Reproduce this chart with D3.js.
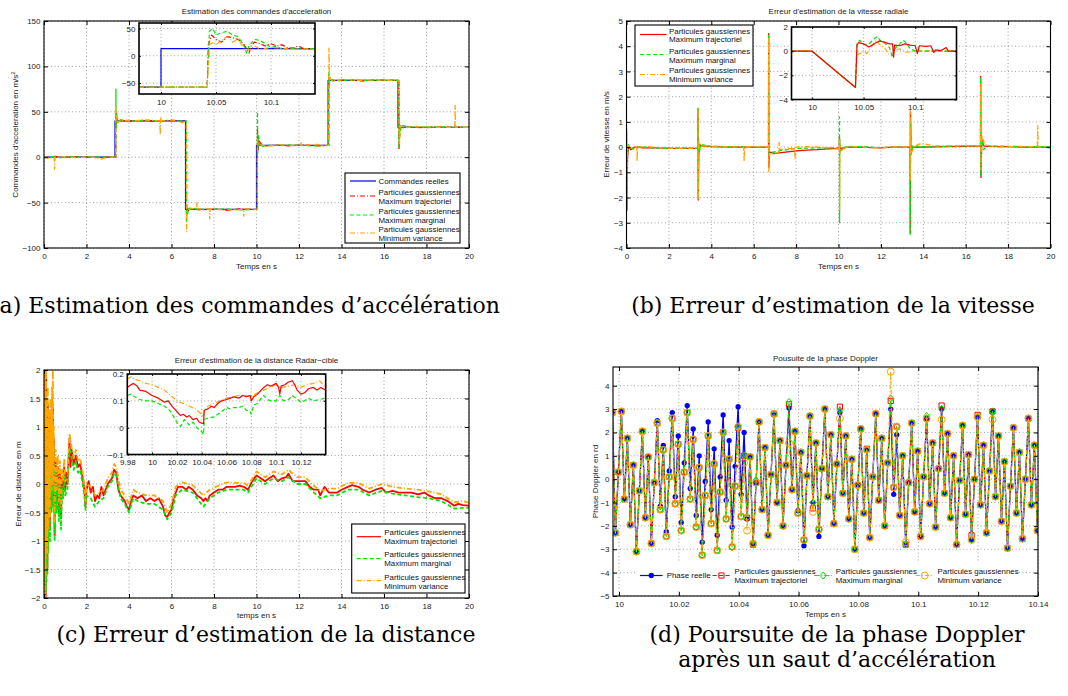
<!DOCTYPE html>
<html>
<head>
<meta charset="utf-8">
<script src="https://cdn.jsdelivr.net/npm/d3@7"></script>
<style>
body { margin: 0; background: #fff; }
svg { font-family: "Liberation Sans", Arial, Helvetica, sans-serif; }
.cap { font-family: "DejaVu Serif", serif; font-size: 22px; }
</style>
</head>
<body>
<script>
// ---------- (a) commandes d'acceleration ----------
var accelTempsReel = [0, 3.34, 6.66, 10.0, 13.37, 16.66, 20];
var accelReel = [0, 40, -57.5, 13, 84.5, 33, 33];
var accelMT = [[0,0.5],[0.3,-0.5],[0.5,0.8],[0.9,-0.3],[1.4,0.4],[2,0],[2.6,-0.4],[3.1,0.3],[3.38,0],[3.385,47],[3.4,36],[3.42,44],[3.46,39],[3.5,41],[4,39.5],[4.6,40.5],[5.2,39.5],[5.8,40.5],[6.4,39.5],[6.7,40],[6.705,-62],[6.72,-55],[6.76,-60],[6.85,-57],[7.4,-58],[8,-57],[8.6,-58.5],[9.2,-57],[9.8,-57.5],[10.04,-57.5],[10.045,30],[10.08,8],[10.12,18],[10.3,12],[10.8,13.5],[11.5,12.5],[12.2,13.5],[12.9,12.5],[13.4,13],[13.405,88],[13.43,82],[13.48,86],[13.6,84.5],[14.3,85],[15,84],[15.7,85],[16.4,84.5],[16.7,84.5],[16.705,8],[16.72,40],[16.75,28],[16.8,34],[17.2,33],[18,32.5],[18.8,33.5],[19.5,33],[20,33]];
var accelMM = [[0,0],[0.4,0.6],[0.8,-0.6],[1.5,0.3],[2.3,-0.2],[3,0.4],[3.38,0],[3.385,75],[3.395,30],[3.41,50],[3.44,38],[3.5,41],[4.2,40],[5,40.5],[5.8,39.5],[6.7,40],[6.705,-72],[6.72,-52],[6.75,-63],[6.82,-56],[7.5,-57.5],[8.5,-57],[9.5,-58],[10.04,-57.5],[10.045,50],[10.06,5],[10.09,25],[10.15,12],[10.6,13],[11.6,13.5],[12.6,12.5],[13.4,13],[13.405,95],[13.42,78],[13.46,88],[13.55,84],[14.5,85],[15.5,84.5],[16.7,84.5],[16.705,10],[16.72,45],[16.74,22],[16.8,35],[17.5,33],[18.5,33.5],[20,33]];
var accelMV = [[0,0.5],[0.2,-1],[0.48,0],[0.5,-13],[0.52,0],[1,0.5],[1.6,-0.5],[2.2,0.6],[2.7,-2],[3,0.3],[3.38,0],[3.385,57],[3.4,42],[3.44,46],[3.5,38],[3.6,41],[4.2,40],[4.8,41],[5.45,40],[5.47,25],[5.5,45],[5.53,40],[6.1,41],[6.5,38],[6.7,40],[6.71,-82],[6.73,-62],[6.78,-58],[6.9,-57],[7.18,-57],[7.2,-50],[7.22,-57],[7.78,-57],[7.8,-68],[7.82,-57],[8.5,-58],[9.38,-58],[9.4,-65],[9.42,-57],[10.04,-57.5],[10.045,20],[10.1,14],[10.5,12],[11,13.5],[12.08,13],[12.1,16],[12.12,13],[12.8,14],[13.4,13],[13.41,120],[13.43,90],[13.47,86],[13.6,84],[14.2,86],[14.6,84.5],[15.4,85],[16.7,84.5],[16.71,30],[16.73,15],[16.77,35],[16.85,32],[17.5,34],[18.3,33],[19.33,33],[19.35,57],[19.37,33],[20,33]];
// zoom autour de t = 10 s
var accelZoomReel = [[9.98,-57.5],[10.0,-57.5],[10.0,13],[10.14,13]];
var accelZoomMT = [[9.98,-57.5],[10.042,-57.5],[10.043,20],[10.046,38],[10.05,30],[10.055,25],[10.06,35],[10.065,33],[10.07,30],[10.075,22],[10.08,5],[10.082,18],[10.085,25],[10.09,22],[10.095,18],[10.1,22],[10.105,18],[10.11,20],[10.115,15],[10.12,14],[10.125,18],[10.13,12],[10.14,13]];
var accelZoomMM = [[9.98,-57.5],[10.042,-57.5],[10.044,45],[10.047,50],[10.05,38],[10.055,42],[10.06,45],[10.065,38],[10.07,35],[10.075,20],[10.078,5],[10.08,18],[10.085,30],[10.09,28],[10.095,22],[10.1,15],[10.105,18],[10.11,12],[10.12,13],[10.13,12],[10.14,13]];
var accelZoomMV = [[9.98,-57.5],[10.042,-57.5],[10.044,20],[10.048,25],[10.05,20],[10.055,28],[10.06,35],[10.065,25],[10.07,30],[10.075,15],[10.08,10],[10.085,18],[10.09,12],[10.1,15],[10.11,14],[10.12,12],[10.14,13]];

// ---------- (b) erreur de vitesse ----------
var vitMT = [[0,0.7],[0.02,-2.5],[0.05,-0.4],[0.1,0.05],[0.2,-0.1],[0.4,0],[0.8,-0.03],[1.5,-0.03],[2.2,-0.05],[3,-0.05],[3.37,-0.05],[3.375,1.5],[3.385,-2.1],[3.41,-0.3],[3.45,0.1],[3.5,0.05],[4,0.02],[5,0],[6,0],[6.7,0],[6.705,4.5],[6.715,-0.8],[6.75,-0.2],[7,-0.25],[7.5,-0.2],[8,-0.15],[8.5,-0.12],[9,-0.1],[9.5,-0.07],[10,-0.05],[10.04,-0.08],[10.045,0.4],[10.06,-0.2],[10.1,-0.05],[10.5,0],[11,0],[12,-0.03],[12.5,0],[13,0],[13.38,0],[13.385,-3.4],[13.395,1.4],[13.43,-0.2],[13.5,0],[14,0],[15,0.02],[16,0.03],[16.7,0.05],[16.705,2.8],[16.72,-1.2],[16.76,0.3],[16.85,0.05],[17,0.03],[18,0.02],[19,0],[20,0]];
var vitMM = [[0,0.6],[0.015,-2.4],[0.04,-0.5],[0.08,0.1],[0.2,-0.05],[0.6,0.02],[1.2,-0.03],[2,-0.05],[2.8,-0.04],[3.37,-0.05],[3.375,1.6],[3.385,-2.0],[3.4,0.3],[3.43,-0.2],[3.5,0.1],[4,0.03],[5,0.01],[6,0],[6.7,0],[6.705,4.5],[6.715,-0.3],[6.75,-0.25],[6.9,-0.2],[7.2,-0.15],[7.6,-0.1],[8,-0.05],[9,-0.03],[10,-0.03],[10.04,-0.05],[10.045,1.2],[10.05,-3.0],[10.06,0.3],[10.1,-0.15],[10.3,0],[11,0.02],[12,-0.02],[13,0],[13.38,0],[13.385,-3.5],[13.395,1.0],[13.42,-0.3],[13.5,0.05],[14,0.02],[15,0.03],[16,0.05],[16.7,0.05],[16.705,2.75],[16.72,-1.1],[16.75,0.4],[16.85,-0.1],[17,0.05],[18,0.03],[19,0.02],[20,0.02]];
var vitMV = [[0,0.75],[0.015,-2.0],[0.04,-0.3],[0.1,0.05],[0.3,-0.1],[0.48,0],[0.5,-0.55],[0.52,0],[1,0.02],[1.6,-0.03],[2.4,-0.05],[3.37,-0.04],[3.375,1.5],[3.385,-2.1],[3.4,-0.2],[3.45,0.15],[3.6,0.05],[4.5,0.02],[5.53,0],[5.55,-0.55],[5.57,0],[6,0.02],[6.7,0],[6.705,4.3],[6.715,-1.0],[6.74,-0.25],[6.9,-0.3],[7.18,-0.2],[7.2,0.2],[7.22,-0.1],[7.6,-0.05],[7.93,-0.05],[7.95,-0.5],[7.97,0],[8.5,0.02],[9.5,-0.02],[10.04,-0.05],[10.045,0.3],[10.05,-2.5],[10.07,0.15],[10.1,-0.1],[10.5,0.03],[11.5,-0.03],[12.5,0],[13.38,0],[13.385,1.45],[13.395,-1.3],[13.41,0.8],[13.45,-0.2],[13.6,0.05],[13.9,0.15],[14.5,0.05],[15.5,0.05],[16.7,0.05],[16.705,2.5],[16.72,-0.9],[16.76,0.45],[16.9,0.1],[17.5,0],[18.5,0.03],[19.38,0],[19.4,0.85],[19.42,0],[20,-0.02]];
var vitZoomMT = [[9.98,0],[10,0],[10.042,-3],[10.0435,0.5],[10.045,0.7],[10.05,0.6],[10.055,0.35],[10.06,0.6],[10.065,0.85],[10.07,0.75],[10.075,0.6],[10.078,0.6],[10.079,-0.5],[10.08,0.5],[10.085,0.45],[10.09,0.6],[10.095,0.5],[10.1,0.45],[10.102,-0.2],[10.104,0.45],[10.11,0.4],[10.115,0.45],[10.118,-0.1],[10.12,0.1],[10.125,0.05],[10.13,0.3],[10.132,0],[10.14,0]];
var vitZoomMM = [[9.98,0],[10,0],[10.042,-3],[10.0435,0.6],[10.046,0.9],[10.05,0.55],[10.055,0.6],[10.06,1.0],[10.063,1.2],[10.067,0.8],[10.07,0.7],[10.075,0.3],[10.078,-0.5],[10.08,0.2],[10.085,0.6],[10.088,0.9],[10.09,0.8],[10.095,0.2],[10.1,0],[10.11,0],[10.12,0],[10.14,0]];
var vitZoomMV = [[9.98,0],[10,0],[10.042,-3],[10.0435,-0.3],[10.047,-0.2],[10.05,0.05],[10.053,-0.2],[10.057,0.3],[10.062,0.9],[10.065,0.6],[10.07,0.3],[10.075,-0.3],[10.078,-0.4],[10.08,0.1],[10.085,0.2],[10.09,-0.1],[10.1,0],[10.11,0.05],[10.12,0],[10.14,0]];

// ---------- (c) erreur de distance ----------
var distMT = [[0,0],[0.02,1.9],[0.04,-1.8],[0.06,1.5],[0.08,-2.0],[0.1,1.95],[0.12,-1.5],[0.14,1.2],[0.16,-1.5],[0.18,1.4],[0.2,-1.0],[0.22,1.0],[0.24,-0.5],[0.26,0.9],[0.28,-0.8],[0.3,1.2],[0.32,0.0],[0.34,1.1],[0.36,-0.3],[0.38,1.5],[0.4,-0.2],[0.42,1.4],[0.44,0.2],[0.46,0.8],[0.5,-0.9],[0.55,0.4],[0.6,-0.3],[0.65,0.3],[0.7,-0.5],[0.75,0.2],[0.8,-0.6],[0.85,0.1],[0.9,-0.1],[0.95,0.3],[1.0,-0.1],[1.05,0.2],[1.1,0.0],[1.2,0.8],[1.25,0.3],[1.3,0.6],[1.4,0.35],[1.5,0.5],[1.6,0.3],[1.7,0.35],[1.8,0.15],[1.9,-0.1],[1.95,-0.4],[2.0,-0.1],[2.1,0.05],[2.2,-0.15],[2.3,-0.05],[2.4,-0.3],[2.5,-0.2],[2.6,-0.25],[2.7,-0.05],[2.8,-0.2],[2.9,-0.1],[3.0,0.0],[3.1,0.05],[3.2,0.1],[3.3,0.25],[3.4,0.2],[3.5,-0.1],[3.6,-0.2],[3.7,-0.25],[3.8,-0.3],[3.9,-0.4],[4.0,-0.45],[4.1,-0.3],[4.2,-0.2],[4.4,-0.25],[4.6,-0.2],[4.8,-0.3],[5.0,-0.25],[5.2,-0.3],[5.4,-0.25],[5.6,-0.4],[5.7,-0.55],[5.8,-0.58],[5.9,-0.5],[6.0,-0.45],[6.1,-0.25],[6.2,-0.15],[6.3,-0.05],[6.5,-0.05],[6.7,-0.1],[6.8,-0.05],[7.0,-0.1],[7.2,-0.2],[7.4,-0.25],[7.5,-0.3],[7.6,-0.25],[7.7,-0.3],[7.8,-0.2],[8.0,-0.15],[8.2,-0.1],[8.4,-0.1],[8.6,-0.05],[8.8,-0.05],[9.0,-0.05],[9.2,-0.03],[9.4,-0.05],[9.6,-0.1],[9.8,0.05],[10.0,0.15],[10.2,0.1],[10.4,0.05],[10.6,0.1],[10.8,0.15],[11.0,0.05],[11.2,0.1],[11.4,0.12],[11.5,0.18],[11.7,0.05],[11.9,0.05],[12.1,0.05],[12.3,0.05],[12.5,-0.05],[12.7,-0.1],[12.9,-0.1],[13.0,-0.2],[13.2,-0.05],[13.4,-0.15],[13.6,-0.15],[13.8,-0.15],[14.0,-0.1],[14.3,-0.05],[14.5,-0.02],[14.8,-0.05],[15.0,-0.1],[15.3,-0.15],[15.6,-0.1],[15.9,-0.07],[16.1,-0.15],[16.4,-0.12],[16.7,-0.15],[17.0,-0.15],[17.3,-0.15],[17.6,-0.18],[17.9,-0.15],[18.1,-0.2],[18.4,-0.25],[18.7,-0.25],[19.0,-0.3],[19.3,-0.38],[19.5,-0.35],[19.7,-0.37],[20.0,-0.38]];
var distMM = [[0,0],[0.02,1.7],[0.04,-1.9],[0.06,1.3],[0.08,-1.9],[0.1,1.6],[0.12,-1.7],[0.14,1.0],[0.16,-1.6],[0.18,1.1],[0.2,-1.2],[0.22,0.8],[0.24,-0.7],[0.26,0.7],[0.28,-1.0],[0.3,0.9],[0.32,-0.2],[0.34,0.9],[0.36,-0.5],[0.38,1.2],[0.4,-0.4],[0.42,1.0],[0.44,0.0],[0.46,0.6],[0.5,-1.0],[0.55,0.2],[0.6,-0.5],[0.65,0.1],[0.7,-0.65],[0.75,0.0],[0.8,-0.8],[0.85,-0.05],[0.9,-0.25],[0.95,0.15],[1.0,-0.2],[1.1,-0.1],[1.2,0.65],[1.3,0.45],[1.4,0.25],[1.5,0.4],[1.6,0.2],[1.7,0.25],[1.8,0.05],[1.9,-0.2],[1.95,-0.45],[2.0,-0.2],[2.2,-0.25],[2.4,-0.4],[2.6,-0.3],[2.8,-0.25],[3.0,-0.05],[3.2,0.05],[3.3,0.2],[3.4,0.15],[3.6,-0.25],[3.8,-0.35],[4.0,-0.5],[4.2,-0.25],[4.4,-0.3],[4.8,-0.35],[5.2,-0.35],[5.6,-0.45],[5.8,-0.62],[6.0,-0.5],[6.2,-0.2],[6.5,-0.1],[7.0,-0.15],[7.5,-0.4],[7.8,-0.25],[8.2,-0.15],[8.6,-0.1],[9.0,-0.1],[9.4,-0.1],[9.6,-0.15],[10.0,0.1],[10.4,0.0],[10.8,0.1],[11.2,0.05],[11.5,0.12],[11.9,0.0],[12.3,0.0],[12.7,-0.15],[13.0,-0.25],[13.4,-0.2],[13.8,-0.2],[14.3,-0.1],[14.8,-0.1],[15.3,-0.2],[15.9,-0.12],[16.4,-0.17],[17.0,-0.2],[17.6,-0.23],[18.1,-0.25],[18.7,-0.3],[19.3,-0.43],[19.7,-0.42],[20.0,-0.42]];
var distMV = [[0,0],[0.02,2.0],[0.04,-2.0],[0.06,1.9],[0.08,-1.6],[0.1,2.0],[0.12,-1.2],[0.14,1.6],[0.16,-1.2],[0.18,1.7],[0.2,-0.8],[0.22,1.3],[0.24,-0.3],[0.26,1.1],[0.28,-0.6],[0.3,1.5],[0.32,0.2],[0.34,1.3],[0.36,-0.1],[0.38,1.7],[0.4,0.0],[0.42,2.0],[0.44,0.4],[0.46,1.0],[0.5,-0.7],[0.55,0.6],[0.6,-0.1],[0.65,0.5],[0.7,-0.3],[0.75,0.4],[0.8,-0.4],[0.85,0.25],[0.9,0.05],[0.95,0.45],[1.0,0.05],[1.1,0.1],[1.2,0.88],[1.3,0.65],[1.4,0.45],[1.5,0.6],[1.6,0.4],[1.7,0.45],[1.8,0.25],[1.9,0.0],[1.95,-0.3],[2.0,0.0],[2.2,-0.05],[2.4,-0.2],[2.6,-0.15],[2.8,-0.1],[3.0,0.1],[3.2,0.2],[3.3,0.35],[3.4,0.3],[3.6,-0.1],[3.8,-0.2],[4.0,-0.35],[4.2,-0.1],[4.4,-0.15],[4.8,-0.2],[5.2,-0.2],[5.6,-0.3],[5.8,-0.5],[6.0,-0.35],[6.2,-0.05],[6.5,0.03],[7.0,-0.02],[7.5,-0.2],[7.8,-0.1],[8.2,-0.03],[8.6,0.03],[9.0,0.02],[9.4,0.02],[9.6,-0.03],[10.0,0.22],[10.4,0.12],[10.8,0.22],[11.2,0.17],[11.5,0.25],[11.9,0.12],[12.3,0.12],[12.7,-0.03],[13.0,-0.12],[13.4,-0.08],[13.8,-0.08],[14.3,0.02],[14.8,0.02],[15.3,-0.08],[15.9,0.0],[16.4,-0.05],[17.0,-0.08],[17.6,-0.1],[18.1,-0.13],[18.7,-0.18],[19.3,-0.32],[19.7,-0.3],[20.0,-0.33]];
var distZoomMT = [[9.98,0.15],[9.983,0.16],[9.985,0.165],[9.988,0.155],[9.99,0.14],[9.995,0.135],[10.0,0.12],[10.005,0.11],[10.01,0.095],[10.013,0.1],[10.016,0.08],[10.02,0.06],[10.023,0.045],[10.025,0.05],[10.028,0.04],[10.03,0.045],[10.033,0.03],[10.036,0.035],[10.038,0.02],[10.0415,0.015],[10.042,0.065],[10.045,0.07],[10.048,0.08],[10.05,0.075],[10.053,0.09],[10.056,0.1],[10.06,0.105],[10.063,0.11],[10.066,0.115],[10.07,0.11],[10.073,0.12],[10.076,0.115],[10.079,0.12],[10.08,0.1],[10.082,0.115],[10.085,0.125],[10.088,0.14],[10.09,0.15],[10.093,0.16],[10.096,0.155],[10.1,0.165],[10.102,0.15],[10.103,0.125],[10.104,0.155],[10.107,0.16],[10.11,0.17],[10.113,0.175],[10.115,0.16],[10.117,0.14],[10.12,0.125],[10.123,0.13],[10.126,0.145],[10.13,0.15],[10.133,0.14],[10.136,0.15],[10.14,0.14]];
var distZoomMM = [[9.98,0.12],[9.983,0.125],[9.986,0.115],[9.99,0.105],[9.995,0.1],[10.0,0.1],[10.005,0.09],[10.01,0.08],[10.015,0.06],[10.02,0.02],[10.023,0.005],[10.026,0.03],[10.03,0.01],[10.033,0.02],[10.036,0.0],[10.04,-0.015],[10.0415,-0.025],[10.042,0.03],[10.045,0.035],[10.05,0.04],[10.053,0.05],[10.056,0.06],[10.06,0.075],[10.063,0.07],[10.066,0.075],[10.07,0.075],[10.073,0.08],[10.076,0.065],[10.079,0.06],[10.08,0.05],[10.082,0.085],[10.085,0.09],[10.088,0.11],[10.09,0.12],[10.093,0.105],[10.096,0.1],[10.1,0.1],[10.103,0.12],[10.106,0.1],[10.11,0.105],[10.113,0.12],[10.116,0.11],[10.12,0.095],[10.123,0.1],[10.126,0.11],[10.13,0.1],[10.135,0.105],[10.14,0.11]];
var distZoomMV = [[9.98,0.18],[9.983,0.19],[9.986,0.18],[9.99,0.175],[9.995,0.165],[10.0,0.16],[10.005,0.15],[10.01,0.14],[10.015,0.12],[10.02,0.1],[10.025,0.09],[10.03,0.08],[10.035,0.07],[10.04,0.05],[10.0415,0.04],[10.042,0.065],[10.045,0.08],[10.05,0.09],[10.055,0.1],[10.06,0.11],[10.065,0.115],[10.07,0.12],[10.075,0.12],[10.08,0.115],[10.085,0.13],[10.09,0.14],[10.095,0.15],[10.1,0.16],[10.105,0.15],[10.11,0.155],[10.115,0.16],[10.12,0.15],[10.125,0.16],[10.13,0.165],[10.135,0.175],[10.14,0.15]];

// ---------- (d) phase Doppler, un echantillon par ms a partir de 9.9978 s ----------
var phaseDebut = 9.9978, phasePas = 0.001;
var phaseReelle = [2.85, -2.3, 0.3, 2.9, -0.85, 1.75, -1.95, 0.6, -3.1, -0.5, 2.05,
  -1.65, 0.95, -2.75, -0.15, 2.5, -1.15, 1.45, -2.25, 0.35, 2.85,
  -0.75, 1.85, -1.85, 0.7, 3.15, -0.4, 2.15, -1.55, 1.0, -2.7,
  -0.1, 2.45, -1.3, 1.3, -2.4, 0.1, 2.75, -0.9, 1.65, -2.05,
  0.55, 3.1, -0.65, 2.0, -1.7, 0.95, -2.8, -0.15, 2.45, -1.3,
  1.35, -2.4, 0.2, 2.75, -1.0, 1.65, -2.0, 0.6, 3.05, -0.45,
  2.05, -1.35, 1.15, -2.85, 0.15, 2.7, -1.0, 1.55, -2.45, 0.45,
  3.0, -0.75, 1.9, -1.9, 0.65, 2.85, -0.6, 1.85, -1.7, 0.85,
  -3.0, -0.25, 2.15, -1.45, 1.25, -2.5, 0.1, 2.8, -0.9, 1.75,
  -2.0, 0.7, 3.0, -0.65, 1.9, -1.55, 1.0, -2.8, -0.15, 2.4,
  -1.4, 1.2, -2.45, 0.1, 2.6, -1.05, 1.55, -2.05, 0.45, 3.0,
  -0.6, 1.95, -1.65, 1.0, -2.8, -0.05, 2.3, -1.5, 1.05, -2.6,
  0.0, 2.65, -1.1, 1.45, -2.3, 0.35, 2.9, -0.75, 1.85, -1.8,
  0.75, -2.95, -0.3, 2.2, -1.45, 1.15, -2.55, 0.0, 2.6, -1.1,
  1.45, -2.2];
var phaseEstimee = [2.85, -2.3, 0.3, 2.9, -0.85, 1.75, -1.95, 0.6, -3.1, -0.5, 2.05,
  -1.65, 0.95, -2.75, -0.15, 2.4, -1.3, 1.25, -2.45, 0.1, 2.6,
  -1.05, 1.5, -2.2, 0.3, 2.85, -0.85, 1.7, -2.05, 0.5, -3.25,
  -0.7, 1.85, -1.9, 0.65, -3.05, -0.55, 2.0, -1.7, 0.85, -2.9,
  -0.3, 2.2, -1.6, 1.0, -1.65, 0.95, -2.8, -0.15, 2.45, -1.3,
  1.35, -2.4, 0.2, 2.8, -1.0, 1.65, -2.0, 0.6, 3.25, -0.45,
  2.05, -1.45, 1.15, -2.6, 0.15, 2.7, -1.0, 1.55, -2.15, 0.45,
  3.0, -0.75, 1.9, -1.9, 0.65, 2.9, -0.6, 1.85, -1.7, 0.85,
  -3.0, -0.25, 2.15, -1.45, 1.25, -2.5, 0.1, 2.8, -0.9, 1.75,
  -2.0, 0.7, 3.4, -0.35, 2.25, -1.55, 1.0, -2.8, -0.15, 2.4,
  -1.4, 1.2, -2.45, 0.1, 2.6, -1.05, 1.55, -2.05, 0.45, 3.0,
  -0.6, 1.95, -1.65, 1.0, -2.8, -0.05, 2.3, -1.5, 1.05, -2.6,
  0.0, 2.65, -1.1, 1.45, -2.3, 0.35, 2.9, -0.75, 1.85, -1.8,
  0.75, -2.95, -0.3, 2.2, -1.45, 1.15, -2.55, 0.0, 2.6, -1.1,
  1.45, -2.2];
// ecarts de chaque estimateur par rapport a phaseEstimee : [indice, valeur]
var phaseEcartsMT = [[76,3.1],[93,3.35],[110,3.15],[85,1.3],[120,-2.4],[122,2.75],[67,-1.25],[59,3.2]];
var phaseEcartsMM = [[93,3.45],[59,3.3],[48,-0.05],[76,2.95],[82,-0.3],[105,2.7]];
var phaseEcartsMV = [[93,4.6],[59,1.55],[45,-2.2],[44,0.7],[76,2.6],[110,2.55],[42,2.25],[67,-1.4],[98,-2.7],[127,2.55],[47,-2.75]];

// ---------- textes ----------
var titres = ["Estimation des commandes d'acceleration", "Erreur d'estimation de la vitesse radiale",
  "Erreur d'estimation de la distance Radar\u2212cible", "Pousuite de la phase Doppler"];
var legendeEstim = [["Particules gaussiennes", "Maximum trajectoriel"], ["Particules gaussiennes", "Maximum marginal"],
  ["Particules gaussiennes", "Minimum variance"]];
var legendeMesures = ["Commandes reelles", "Phase reelle"];

var BLUE = "#0000ff", RED = "#ff0000", GREEN = "#00e600", ORANGE = "#ffa500";
var FS = 8;

var svg = d3.select("body").append("svg").attr("width", 1068).attr("height", 696);

function fmt(d) { return String(+d.toFixed(4)).replace("-", "\u2212"); }

var clipCount = 0;
function axes(box, xdom, ydom, xticks, yticks, tick) {
  var g = svg.append("g");
  var x = d3.scaleLinear().domain(xdom).range([box.x0, box.x1]);
  var y = d3.scaleLinear().domain(ydom).range([box.y1, box.y0]);
  g.append("rect").attr("x", box.x0).attr("y", box.y0)
    .attr("width", box.x1 - box.x0).attr("height", box.y1 - box.y0).attr("fill", "#fff");
  var grid = g.append("g").attr("stroke", "#8a8a8a").attr("stroke-width", 0.8).attr("stroke-dasharray", "1,2.5");
  grid.selectAll(".gx").data(xticks).join("line").attr("class", "gx")
    .attr("x1", x).attr("x2", x).attr("y1", box.y0).attr("y2", box.y1);
  grid.selectAll(".gy").data(yticks).join("line").attr("class", "gy")
    .attr("y1", y).attr("y2", y).attr("x1", box.x0).attr("x2", box.x1);
  var id = "clip" + (clipCount++);
  svg.append("clipPath").attr("id", id).append("rect").attr("x", box.x0).attr("y", box.y0)
    .attr("width", box.x1 - box.x0).attr("height", box.y1 - box.y0);
  var plot = g.append("g").attr("clip-path", "url(#" + id + ")");
  return { g: g, x: x, y: y, box: box, plot: plot, xticks: xticks, yticks: yticks, tick: tick || 4 };
}

function frame(a, bw) {
  var b = a.box, t = a.tick;
  function style(sel) {
    sel.select(".domain").remove();
    sel.attr("font-family", null).attr("font-size", FS);
    sel.selectAll("text").attr("fill", "#222");
    sel.selectAll("line").attr("stroke", "#000");
  }
  a.g.append("g").attr("transform", "translate(0," + b.y1 + ")")
    .call(d3.axisBottom(a.x).tickValues(a.xticks).tickSizeInner(-t).tickSizeOuter(0).tickPadding(5).tickFormat(fmt)).call(style);
  a.g.append("g").attr("transform", "translate(0," + b.y0 + ")")
    .call(d3.axisTop(a.x).tickValues(a.xticks).tickSizeInner(-t).tickSizeOuter(0).tickFormat("")).call(style);
  a.g.append("g").attr("transform", "translate(" + b.x0 + ",0)")
    .call(d3.axisLeft(a.y).tickValues(a.yticks).tickSizeInner(-t).tickSizeOuter(0).tickPadding(3.5).tickFormat(fmt)).call(style);
  a.g.append("g").attr("transform", "translate(" + b.x1 + ",0)")
    .call(d3.axisRight(a.y).tickValues(a.yticks).tickSizeInner(-t).tickSizeOuter(0).tickFormat("")).call(style);
  a.g.append("rect").attr("x", b.x0).attr("y", b.y0).attr("width", b.x1 - b.x0).attr("height", b.y1 - b.y0)
    .attr("fill", "none").attr("stroke", "#000").attr("stroke-width", bw || 1.1);
}

function trace(a, data, color, dash, width, curve) {
  var line = d3.line().x(function(d) { return a.x(d[0]); }).y(function(d) { return a.y(d[1]); });
  if (curve) line.curve(curve);
  a.plot.append("path").datum(data).attr("d", line).attr("fill", "none")
    .attr("stroke", color).attr("stroke-width", width || 1.2)
    .attr("stroke-dasharray", dash || null).attr("stroke-linejoin", "round");
}

function labels(a, title, xlab, ylab, titleY, xlabY, ylabX) {
  var cx = (a.box.x0 + a.box.x1) / 2, cy = (a.box.y0 + a.box.y1) / 2;
  svg.append("text").attr("x", cx).attr("y", titleY).attr("text-anchor", "middle").attr("dy", "0.35em")
    .attr("font-size", FS).attr("fill", "#222").text(title);
  svg.append("text").attr("x", cx).attr("y", xlabY).attr("text-anchor", "middle").attr("dy", "0.35em")
    .attr("font-size", FS).attr("fill", "#222").text(xlab);
  var yl = svg.append("text").attr("transform", "translate(" + ylabX + "," + cy + ") rotate(-90)")
    .attr("text-anchor", "middle").attr("dy", "0.35em").attr("font-size", FS).attr("fill", "#222");
  return yl.text(ylab);
}

function legend(box, sx0, sx1, tx, entries) {
  var g = svg.append("g");
  g.append("rect").attr("x", box.x0).attr("y", box.y0).attr("width", box.x1 - box.x0).attr("height", box.y1 - box.y0)
    .attr("fill", "#fff").attr("stroke", "#000").attr("stroke-width", 1.1);
  entries.forEach(function(e) {
    g.append("line").attr("x1", sx0).attr("x2", sx1).attr("y1", e.sy).attr("y2", e.sy)
      .attr("stroke", e.color).attr("stroke-width", 1.2).attr("stroke-dasharray", e.dash || null);
    e.lines.forEach(function(s, i) {
      g.append("text").attr("x", tx).attr("y", e.ty[i]).attr("dy", "0.35em").attr("font-size", 7.9)
        .attr("fill", "#111").text(s);
    });
  });
}

var DASH_DOT = "5,2,1,2", DASHED = "4,2.5";

// ================= (a) =================
var A = axes({ x0: 44, x1: 469, y0: 21, y1: 248 }, [0, 20], [-100, 150], d3.range(0, 21, 2), [-100, -50, 0, 50, 100, 150]);
var reelSteps = accelTempsReel.map(function(t, i) { return [t, accelReel[i]]; });
trace(A, reelSteps, BLUE, null, 1.2, d3.curveStepAfter);
trace(A, accelMT, RED, DASH_DOT, 1.3);
trace(A, accelMM, GREEN, DASHED, 1.3);
trace(A, accelMV, ORANGE, DASH_DOT, 1.3);
frame(A);
var ylA = labels(A, titres[0], "Temps en s", "", 11, 266, 15);
ylA.text("Commandes d'acceleration en m/s").append("tspan").attr("baseline-shift", "super").attr("font-size", 6).text("2");

var Ai = axes({ x0: 139, x1: 315, y0: 23, y1: 94 }, [9.98, 10.14], [-70, 60], [10, 10.05, 10.1], [-50, 0, 50], 2);
trace(Ai, accelZoomReel, BLUE, null, 1.2);
trace(Ai, accelZoomMT, RED, DASH_DOT, 1.2);
trace(Ai, accelZoomMM, GREEN, DASHED, 1.2);
trace(Ai, accelZoomMV, ORANGE, DASH_DOT, 1.2);
frame(Ai, 1.6);

legend({ x0: 345, x1: 460, y0: 173, y1: 243 }, 350, 376, 378.5, [
  { color: BLUE, sy: 181, ty: [181], lines: [legendeMesures[0]] },
  { color: RED, dash: DASH_DOT, sy: 196, ty: [192, 201], lines: legendeEstim[0] },
  { color: GREEN, dash: DASHED, sy: 215, ty: [211, 220], lines: legendeEstim[1] },
  { color: ORANGE, dash: DASH_DOT, sy: 233, ty: [229, 238], lines: legendeEstim[2] }
]);

// ================= (b) =================
var B = axes({ x0: 626.5, x1: 1050.5, y0: 21, y1: 248 }, [0, 20], [-4, 5], d3.range(0, 21, 2), d3.range(-4, 6, 1));
trace(B, vitMT, RED, null, 1.3);
trace(B, vitMM, GREEN, DASHED, 1.3);
trace(B, vitMV, ORANGE, DASH_DOT, 1.3);
frame(B);
labels(B, titres[1], "Temps en s", "Erreur de vitesse en m/s", 11, 266, 606.5);

var Bi = axes({ x0: 791.5, x1: 956.5, y0: 27, y1: 99.5 }, [9.98, 10.14], [-4, 2], [10, 10.05, 10.1], [-4, -2, 0, 2], 2);
trace(Bi, vitZoomMV, ORANGE, DASH_DOT, 1.2);
trace(Bi, vitZoomMM, GREEN, DASHED, 1.2);
trace(Bi, vitZoomMT, RED, null, 1.2);
frame(Bi, 1.6);

legend({ x0: 635, x1: 753, y0: 25, y1: 86 }, 640, 666.5, 669, [
  { color: RED, sy: 34.5, ty: [31, 39.5], lines: legendeEstim[0] },
  { color: GREEN, dash: DASHED, sy: 54.5, ty: [51, 60], lines: legendeEstim[1] },
  { color: ORANGE, dash: DASH_DOT, sy: 74.5, ty: [70.5, 79.5], lines: legendeEstim[2] }
]);

// ================= (c) =================
var C = axes({ x0: 44, x1: 469, y0: 370, y1: 598 }, [0, 20], [-2, 2], d3.range(0, 21, 2), d3.range(-2, 2.01, 0.5));
trace(C, distMT, RED, null, 1.8);
trace(C, distMM, GREEN, DASHED, 1.8);
trace(C, distMV, ORANGE, DASH_DOT, 1.8);
frame(C);
labels(C, titres[2], "temps en s", "Erreur de distance en m", 360, 615.5, 18.3);

var Ci = axes({ x0: 127.3, x1: 325.7, y0: 374, y1: 454.5 }, [9.98, 10.14], [-0.1, 0.2], d3.range(9.98, 10.121, 0.02), [-0.1, 0, 0.1, 0.2], 2);
trace(Ci, distZoomMM, GREEN, DASHED, 1.2);
trace(Ci, distZoomMV, ORANGE, DASH_DOT, 1.2);
trace(Ci, distZoomMT, RED, null, 1.2);
frame(Ci, 1.6);

legend({ x0: 351.7, x1: 465, y0: 524, y1: 593 }, 356.7, 381, 384.3, [
  { color: RED, sy: 536.7, ty: [532.3, 541.7], lines: legendeEstim[0] },
  { color: GREEN, dash: DASHED, sy: 558.7, ty: [554, 563.3], lines: legendeEstim[1] },
  { color: ORANGE, dash: DASH_DOT, sy: 580.7, ty: [577.3, 586.7], lines: legendeEstim[2] }
]);

// ================= (d) =================
var D = axes({ x0: 613, x1: 1038, y0: 367, y1: 596 }, [9.998, 10.14], [-5, 4.8], d3.range(10, 10.141, 0.02), d3.range(-5, 5, 1));
function serie(values) { return values.map(function(v, i) { return [phaseDebut + i * phasePas, v]; }); }
function avecEcarts(ecarts) {
  var v = phaseEstimee.slice();
  ecarts.forEach(function(e) { v[e[0]] = e[1]; });
  return serie(v);
}
var pReel = serie(phaseReelle), pMT = avecEcarts(phaseEcartsMT), pMM = avecEcarts(phaseEcartsMM), pMV = avecEcarts(phaseEcartsMV);

function marks(a, data, kind, color) {
  var sel = a.plot.append("g").selectAll("path").data(data).join("path")
    .attr("transform", function(d) { return "translate(" + a.x(d[0]) + "," + a.y(d[1]) + ")"; });
  if (kind === "dot") sel.attr("d", d3.symbol(d3.symbolCircle, 22)).attr("fill", color);
  if (kind === "square") sel.attr("d", "M-2.6,-2.6H2.6V2.6H-2.6Z").attr("fill", "none").attr("stroke", color).attr("stroke-width", 1);
  if (kind === "diamond") sel.attr("d", "M0,-3.6L3,0L0,3.6L-3,0Z").attr("fill", "none").attr("stroke", color).attr("stroke-width", 1);
  if (kind === "circle") sel.attr("d", d3.symbol(d3.symbolCircle, 38)).attr("fill", "none").attr("stroke", color).attr("stroke-width", 1);
}
trace(D, pReel, BLUE, null, 1.3);
marks(D, pReel, "dot", BLUE);
trace(D, pMT, RED, DASHED, 1.1);
marks(D, pMT, "square", RED);
trace(D, pMM, GREEN, DASH_DOT, 1.1);
marks(D, pMM, "diamond", GREEN);
trace(D, pMV, ORANGE, "4,2,1,2", 1.1);
marks(D, pMV, "circle", ORANGE);
frame(D);
labels(D, titres[3], "Temps en s", "Phase Doppler en rd", 358, 614, 595);

// legende horizontale sans cadre
var LD = svg.append("g");
LD.append("rect").attr("x", 636).attr("y", 563).attr("width", 379).attr("height", 27).attr("fill", "#fff");
var legD = [
  { color: BLUE, dash: null, x0: 640, x1: 662.6, tx: 666.7, kind: "dot", lines: [legendeMesures[1]], ty: [575.5] },
  { color: RED, dash: DASHED, x0: 712.6, x1: 730.3, tx: 734.5, kind: "square", lines: legendeEstim[0], ty: [571, 580] },
  { color: GREEN, dash: DASH_DOT, x0: 814.3, x1: 832, tx: 835.8, kind: "diamond", lines: legendeEstim[1], ty: [571, 580] },
  { color: ORANGE, dash: "4,2,1,2", x0: 915.9, x1: 933.6, tx: 937.5, kind: "circle", lines: legendeEstim[2], ty: [571, 580] }
];
legD.forEach(function(e) {
  LD.append("line").attr("x1", e.x0).attr("x2", e.x1).attr("y1", 575.5).attr("y2", 575.5)
    .attr("stroke", e.color).attr("stroke-width", 1.2).attr("stroke-dasharray", e.dash);
  var ident = { plot: LD, x: function(v) { return v; }, y: function(v) { return v; } };
  marks(ident, [[(e.x0 + e.x1) / 2, 575.5]], e.kind, e.color);
  e.lines.forEach(function(s, i) {
    LD.append("text").attr("x", e.tx).attr("y", e.ty[i]).attr("dy", "0.35em").attr("font-size", 7.9).attr("fill", "#111").text(s);
  });
});

// ================= legendes des sous-figures =================
var sousTitres = [
  { x: -9, y: 313, a: "start", s: "(a) Estimation des commandes d\u2019acc\u00e9l\u00e9ration" },
  { x: 833, y: 313, a: "middle", s: "(b) Erreur d\u2019estimation de la vitesse" },
  { x: 266, y: 642, a: "middle", s: "(c) Erreur d\u2019estimation de la distance" },
  { x: 837, y: 642, a: "middle", s: "(d) Poursuite de la phase Doppler" },
  { x: 837, y: 667, a: "middle", s: "apr\u00e8s un saut d\u2019acc\u00e9l\u00e9ration" }
];
svg.selectAll(".cap").data(sousTitres).join("text").attr("class", "cap")
  .attr("x", function(d) { return d.x; }).attr("y", function(d) { return d.y; })
  .attr("text-anchor", function(d) { return d.a; }).attr("fill", "#000").text(function(d) { return d.s; });
</script>
</body>
</html>
